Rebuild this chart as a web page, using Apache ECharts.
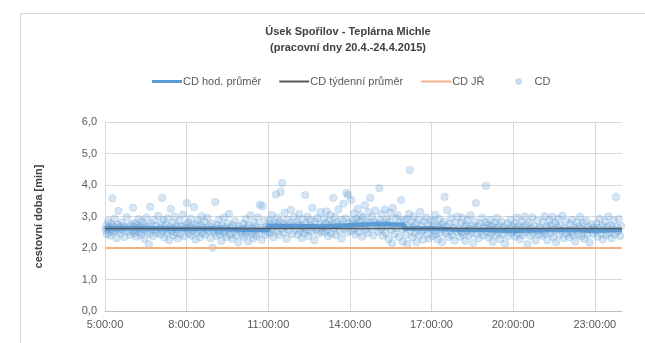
<!DOCTYPE html>
<html>
<head>
<meta charset="utf-8">
<script src="https://cdn.jsdelivr.net/npm/echarts@6/dist/echarts.min.js"></script>
<style>
  html, body { margin: 0; padding: 0; background: #ffffff; }
  #chart { width: 645px; height: 343px; }
</style>
</head>
<body>
<div id="chart"></div>
<script>
// Travel time on the Spořilov – Teplárna Michle section, working days 20.–24. 4. 2015

// Hour of day (start of each hourly bin)
const hours = [5, 6, 7, 8, 9, 10, 11, 12, 13, 14, 15, 16, 17, 18, 19, 20, 21, 22, 23];
// Hourly average travel time [min]
const hourlyAvg = [2.63, 2.62, 2.60, 2.62, 2.58, 2.57, 2.70, 2.68, 2.72, 2.76, 2.74, 2.62, 2.58, 2.57, 2.55, 2.56, 2.58, 2.55, 2.57];
// Weekly average travel time [min]
const weeklyAvg = 2.62;
// Timetable travel time (JŘ) [min]
const timetable = 2.0;
// Time axis range [h] and tick step
const dayStart = 5;
const dayEnd = 24;
const hourStep = 3;
// Y axis range [min]
const yMin = 0, yMax = 6, yStep = 1;

// Individual measured travel times: [hour of day, minutes]
const cdPoints = [
  [5.02,2.58],[5.05,2.71],[5.07,2.44],[5.09,2.62],[5.12,2.85],[5.14,2.53],[5.17,2.66],[5.19,2.39],[5.22,2.77],[5.24,2.60],[5.27,3.58],[5.29,2.49],[5.32,2.68],[5.35,2.93],[5.37,2.55],[5.40,2.63],[5.43,2.31],[5.46,2.74],[5.49,3.18],[5.52,2.57],[5.55,2.66],[5.58,2.46],[5.61,2.81],[5.64,2.59],[5.68,2.70],[5.72,2.35],[5.76,2.64],[5.80,2.98],[5.84,2.52],[5.88,2.69],[5.93,2.42],[5.97,2.76],
  [6.01,2.55],[6.03,3.28],[6.05,2.68],[6.08,2.47],[6.10,2.79],[6.13,2.58],[6.15,2.36],[6.18,2.71],[6.21,2.63],[6.24,2.92],[6.27,2.50],[6.30,2.66],[6.33,2.41],[6.36,2.84],[6.39,2.57],[6.42,2.74],[6.45,2.29],[6.48,2.62],[6.52,2.97],[6.55,2.53],[6.58,2.69],[6.61,2.12],[6.64,2.45],[6.66,3.31],[6.69,2.77],[6.72,2.60],[6.76,2.38],[6.80,2.88],[6.84,2.56],[6.88,2.70],[6.92,2.48],[6.96,3.02],
  [7.01,2.64],[7.04,2.43],[7.07,2.78],[7.10,3.59],[7.12,2.55],[7.15,2.89],[7.18,2.33],[7.21,2.61],[7.24,2.72],[7.27,2.47],[7.30,2.95],[7.33,2.58],[7.36,2.25],[7.39,2.67],[7.42,3.24],[7.45,2.52],[7.48,2.80],[7.51,2.40],[7.54,2.63],[7.57,2.99],[7.60,2.49],[7.63,2.71],[7.67,2.30],[7.70,2.59],[7.74,2.86],[7.78,2.44],[7.82,2.68],[7.86,3.06],[7.90,2.37],[7.94,2.62],[7.98,2.75],
  [8.01,3.43],[8.03,2.57],[8.06,2.81],[8.09,2.45],[8.12,2.66],[8.15,2.93],[8.18,2.39],[8.21,2.70],[8.24,2.54],[8.27,3.30],[8.30,2.62],[8.33,2.27],[8.36,2.76],[8.39,2.50],[8.42,2.88],[8.45,2.58],[8.49,2.34],[8.52,2.72],[8.55,3.01],[8.58,2.47],[8.61,2.65],[8.65,2.84],[8.68,2.41],[8.72,2.60],[8.76,2.96],[8.80,2.52],[8.84,2.69],[8.88,2.31],[8.92,2.78],[8.95,2.01],[8.96,2.56],
  [9.02,2.49],[9.05,3.46],[9.07,2.63],[9.10,2.38],[9.13,2.74],[9.16,2.55],[9.19,2.90],[9.22,2.44],[9.25,2.61],[9.28,2.23],[9.31,2.70],[9.34,2.52],[9.37,2.97],[9.40,2.46],[9.43,2.66],[9.46,2.35],[9.50,2.79],[9.53,2.58],[9.56,3.08],[9.60,2.42],[9.63,2.64],[9.67,2.29],[9.70,2.73],[9.74,2.51],[9.78,2.86],[9.82,2.40],[9.86,2.60],[9.90,2.18],[9.94,2.69],[9.98,2.54],
  [10.02,2.61],[10.05,2.43],[10.08,2.77],[10.11,2.35],[10.14,2.59],[10.17,2.92],[10.20,2.48],[10.23,2.66],[10.26,2.21],[10.29,2.73],[10.32,2.53],[10.35,3.04],[10.38,2.44],[10.42,2.62],[10.45,2.30],[10.48,2.81],[10.52,2.56],[10.55,2.39],[10.58,2.70],[10.62,2.97],[10.66,2.47],[10.69,3.37],[10.72,2.64],[10.76,2.26],[10.79,3.33],[10.82,2.58],[10.86,2.85],[10.90,2.42],[10.94,2.68],[10.97,2.51],
  [11.01,2.65],[11.04,2.88],[11.07,2.47],[11.10,2.76],[11.13,3.05],[11.16,2.58],[11.19,2.34],[11.22,2.81],[11.25,2.69],[11.28,3.70],[11.31,2.52],[11.34,2.96],[11.37,2.73],[11.40,2.41],[11.43,2.85],[11.46,3.78],[11.49,2.62],[11.51,4.06],[11.54,2.77],[11.57,2.49],[11.60,3.12],[11.64,2.68],[11.67,2.29],[11.71,2.90],[11.75,2.56],[11.79,2.79],[11.83,3.21],[11.87,2.44],[11.91,2.71],[11.95,2.98],
  [12.02,2.60],[12.05,2.83],[12.08,2.42],[12.11,2.74],[12.14,3.08],[12.17,2.55],[12.20,2.70],[12.23,2.31],[12.26,2.91],[12.29,2.63],[12.32,2.48],[12.36,3.68],[12.39,2.79],[12.42,2.57],[12.45,3.00],[12.48,2.38],[12.52,2.72],[12.55,2.88],[12.58,2.51],[12.62,3.27],[12.65,2.66],[12.69,2.24],[12.72,2.84],[12.76,2.59],[12.80,2.95],[12.84,2.45],[12.88,2.76],[12.92,3.14],[12.96,2.53],[12.99,2.69],
  [13.02,2.66],[13.05,2.93],[13.08,2.50],[13.11,2.79],[13.14,3.16],[13.17,2.58],[13.20,2.37],[13.23,2.85],[13.26,2.71],[13.29,3.05],[13.32,2.46],[13.36,2.77],[13.39,3.59],[13.42,2.62],[13.45,2.98],[13.48,2.41],[13.52,2.82],[13.55,2.68],[13.58,3.22],[13.62,2.54],[13.65,2.74],[13.69,2.30],[13.72,2.89],[13.76,3.41],[13.80,2.61],[13.84,2.94],[13.87,3.75],[13.90,2.49],[13.93,3.68],[13.97,2.80],
  [14.02,2.71],[14.05,3.52],[14.08,2.55],[14.11,2.88],[14.14,3.10],[14.17,2.62],[14.20,2.43],[14.23,2.92],[14.26,2.78],[14.29,3.25],[14.32,2.51],[14.36,2.84],[14.39,3.03],[14.42,2.66],[14.45,2.36],[14.48,2.97],[14.52,2.73],[14.55,3.36],[14.58,2.58],[14.62,2.86],[14.65,2.47],[14.69,3.14],[14.72,2.80],[14.75,3.59],[14.78,2.64],[14.82,2.99],[14.86,2.40],[14.90,2.83],[14.94,3.19],[14.98,2.69],
  [15.02,2.77],[15.05,2.52],[15.08,3.90],[15.11,2.86],[15.14,2.61],[15.17,3.07],[15.20,2.39],[15.23,2.80],[15.26,2.68],[15.29,3.22],[15.32,2.48],[15.36,2.91],[15.39,2.73],[15.42,2.28],[15.45,2.85],[15.48,3.13],[15.52,2.57],[15.55,2.15],[15.58,3.27],[15.62,2.70],[15.65,2.44],[15.69,2.95],[15.72,2.63],[15.76,3.04],[15.80,2.35],[15.84,2.82],[15.88,3.52],[15.91,2.59],[15.94,2.20],[15.98,2.88],
  [16.02,2.64],[16.05,2.41],[16.08,2.92],[16.11,2.13],[16.14,2.70],[16.17,3.08],[16.20,4.48],[16.23,2.55],[16.26,2.83],[16.29,2.33],[16.32,2.66],[16.35,3.01],[16.38,2.47],[16.42,2.78],[16.45,2.18],[16.48,2.61],[16.52,2.89],[16.55,2.40],[16.58,3.15],[16.62,2.69],[16.65,2.52],[16.69,2.26],[16.72,2.84],[16.76,2.58],[16.80,2.97],[16.84,2.44],[16.88,2.73],[16.91,2.30],[16.95,2.62],[16.98,2.87],
  [17.02,2.61],[17.05,2.38],[17.08,2.85],[17.11,2.53],[17.14,3.05],[17.17,2.44],[17.20,2.70],[17.23,2.27],[17.26,2.66],[17.29,2.92],[17.33,2.49],[17.36,2.74],[17.39,2.19],[17.42,2.59],[17.45,2.83],[17.48,3.62],[17.52,2.46],[17.55,2.68],[17.58,3.20],[17.62,2.35],[17.65,2.77],[17.69,2.55],[17.72,2.96],[17.76,2.41],[17.80,2.64],[17.84,2.23],[17.88,2.80],[17.92,2.52],[17.96,3.00],
  [18.02,2.58],[18.05,2.36],[18.08,2.79],[18.11,2.50],[18.14,2.95],[18.17,2.42],[18.20,2.67],[18.24,2.22],[18.27,2.73],[18.30,2.55],[18.33,2.88],[18.37,2.39],[18.40,2.62],[18.43,3.04],[18.46,2.47],[18.50,2.70],[18.53,2.16],[18.56,2.60],[18.60,2.84],[18.63,3.43],[18.66,2.44],[18.70,2.68],[18.74,2.31],[18.78,2.76],[18.82,2.53],[18.86,2.97],[18.90,2.40],[18.94,2.65],[18.98,2.82],
  [19.00,3.97],[19.03,2.51],[19.06,2.74],[19.09,2.33],[19.12,2.62],[19.15,2.89],[19.18,2.45],[19.22,2.68],[19.25,2.20],[19.28,2.57],[19.31,2.80],[19.35,2.40],[19.38,2.64],[19.41,2.96],[19.45,2.49],[19.48,2.71],[19.52,2.28],[19.55,2.59],[19.58,2.83],[19.62,2.43],[19.66,2.66],[19.70,2.14],[19.74,2.55],[19.78,2.77],[19.82,2.37],[19.86,2.61],[19.90,2.90],[19.94,2.47],[19.97,2.69],
  [20.02,2.54],[20.05,2.78],[20.08,2.36],[20.11,2.63],[20.14,2.97],[20.18,2.45],[20.21,2.70],[20.24,2.28],[20.28,2.59],[20.31,2.84],[20.35,2.41],[20.38,2.66],[20.42,3.00],[20.45,2.50],[20.49,2.73],[20.52,2.12],[20.56,2.57],[20.59,2.81],[20.63,2.39],[20.67,2.62],[20.70,2.98],[20.74,2.47],[20.78,2.69],[20.82,2.24],[20.86,2.55],[20.90,2.87],[20.94,2.43],[20.97,2.65],
  [21.02,2.60],[21.05,2.38],[21.09,2.83],[21.12,2.51],[21.16,3.01],[21.19,2.44],[21.23,2.69],[21.26,2.25],[21.30,2.63],[21.33,2.88],[21.37,2.47],[21.40,2.72],[21.44,2.99],[21.48,2.35],[21.51,2.58],[21.55,2.80],[21.58,2.18],[21.62,2.66],[21.66,2.92],[21.70,2.42],[21.73,2.70],[21.77,2.54],[21.81,3.03],[21.85,2.31],[21.89,2.61],[21.93,2.85],[21.97,2.46],
  [22.02,2.57],[22.06,2.34],[22.09,2.76],[22.13,2.49],[22.17,2.90],[22.20,2.40],[22.24,2.65],[22.28,2.21],[22.31,2.58],[22.35,2.82],[22.39,2.44],[22.42,2.68],[22.46,2.99],[22.50,2.37],[22.54,2.61],[22.57,2.79],[22.61,2.29],[22.65,2.55],[22.69,2.86],[22.73,2.42],[22.77,2.66],[22.81,2.17],[22.85,2.59],[22.89,2.74],[22.93,2.46],[22.97,2.63],
  [23.02,2.55],[23.06,2.78],[23.10,2.36],[23.14,2.64],[23.18,2.93],[23.22,2.45],[23.26,2.70],[23.30,2.27],[23.34,2.59],[23.38,2.84],[23.42,2.41],[23.46,2.67],[23.50,3.00],[23.54,2.48],[23.58,2.72],[23.62,2.31],[23.66,2.61],[23.70,2.87],[23.74,2.43],[23.78,3.62],[23.81,2.66],[23.85,2.53],[23.89,2.92],[23.93,2.38],[23.97,2.69]
];

// The time axis runs in hours since the start of the day's window,
// so ticks fall on 5:00, 8:00, 11:00 ... counted from zero.
const toAxis = h => h - dayStart;

const hourlySeries = hours.map((h, i) => [toAxis(h), hourlyAvg[i]]);
hourlySeries.push([toAxis(dayEnd), hourlyAvg[hourlyAvg.length - 1]]);

const chart = echarts.init(document.getElementById('chart'), null, { renderer: 'canvas' });

const font = 'Liberation Sans, Arial, sans-serif';

// Legend icons: 30×8 boxes (invisible moveTo corners fix the box), with a bar or dot inside
const iconThick = 'path://M0,0M30,8M0,2.5H30V5.5H0Z';
const iconThin = 'path://M0,0M30,8M0,3H30V5H0Z';
const iconDot = 'path://M0,0M30,8M12.5,4a2.5,2.5 0 1,0 5,0a2.5,2.5 0 1,0 -5,0Z';

chart.setOption({
  backgroundColor: '#ffffff',
  animation: false,
  textStyle: { fontFamily: font },
  graphic: [{
    type: 'rect',
    shape: { x: 20.5, y: 13.5, width: 640, height: 340 },
    style: { fill: 'none', stroke: '#d9d9d9', lineWidth: 1 },
    silent: true
  }],
  title: {
    text: 'Úsek Spořilov - Teplárna Michle\n(pracovní dny 20.4.-24.4.2015)',
    left: 343,
    textAlign: 'center',
    top: 19,
    textStyle: { fontFamily: font, fontSize: 11, fontWeight: 'bold', color: '#404040', lineHeight: 16 }
  },
  legend: {
    top: 71,
    left: 147,
    itemWidth: 30,
    itemHeight: 8,
    itemGap: 18,
    textStyle: { fontFamily: font, fontSize: 11, color: '#595959', padding: [0, 0, 0, -4] },
    data: [
      { name: 'CD hod. průměr', icon: iconThick },
      { name: 'CD týdenní průměr', icon: iconThin },
      { name: 'CD JŘ', icon: iconThin },
      { name: 'CD', icon: iconDot }
    ]
  },
  grid: { left: 105, right: 23, top: 122, bottom: 32, containLabel: false },
  xAxis: {
    type: 'value',
    min: 0,
    max: toAxis(dayEnd),
    interval: hourStep,
    axisLine: { show: true, lineStyle: { color: '#bfbfbf', width: 1 } },
    axisTick: { show: false },
    splitLine: { show: true, showMaxLine: false, lineStyle: { color: '#d9d9d9', width: 1 } },
    axisLabel: {
      showMaxLabel: false,
      margin: 8,
      fontSize: 11,
      color: '#595959',
      fontFamily: font,
      formatter: v => (v + dayStart) + ':00:00'
    }
  },
  yAxis: {
    type: 'value',
    min: yMin,
    max: yMax,
    interval: yStep,
    name: 'cestovní doba [min]',
    nameLocation: 'middle',
    nameGap: 61,
    nameRotate: 90,
    nameTextStyle: { fontFamily: font, fontSize: 11, fontWeight: 'bold', color: '#404040' },
    axisLine: { show: false },
    axisTick: { show: false },
    splitLine: { show: true, lineStyle: { color: '#d9d9d9', width: 1 } },
    axisLabel: {
      margin: 8,
      fontSize: 11,
      color: '#595959',
      fontFamily: font,
      formatter: v => v.toFixed(1).replace('.', ',')
    }
  },
  series: [
    {
      name: 'CD',
      type: 'scatter',
      data: cdPoints.map(p => [toAxis(p[0]), p[1]]),
      symbol: 'circle',
      symbolSize: 7.5,
      itemStyle: {
        color: 'rgba(91,155,213,0.32)',
        borderColor: 'rgba(91,155,213,0.32)',
        borderWidth: 0.8
      },
      z: 1
    },
    {
      name: 'CD JŘ',
      type: 'line',
      data: [[toAxis(dayStart), timetable], [toAxis(dayEnd), timetable]],
      showSymbol: false,
      symbol: 'none',
      lineStyle: { color: '#f4b183', width: 2 },
      itemStyle: { color: '#f4b183' },
      z: 2
    },
    {
      name: 'CD hod. průměr',
      type: 'line',
      step: 'end',
      data: hourlySeries,
      showSymbol: false,
      symbol: 'none',
      lineStyle: { color: '#5b9bd5', width: 4.5 },
      itemStyle: { color: '#5b9bd5' },
      z: 3
    },
    {
      name: 'CD týdenní průměr',
      type: 'line',
      data: [[toAxis(dayStart), weeklyAvg], [toAxis(dayEnd), weeklyAvg]],
      showSymbol: false,
      symbol: 'none',
      lineStyle: { color: '#595959', width: 1.5 },
      itemStyle: { color: '#595959' },
      z: 4
    }
  ]
});
</script>
</body>
</html>
